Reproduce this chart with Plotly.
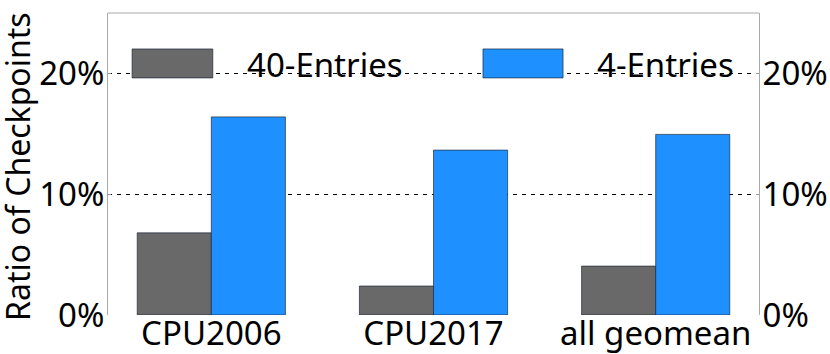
import plotly.graph_objects as go

# benchmark suites on the x axis
categories = ["CPU2006", "CPU2017", "all geomean"]
series_names = ["40-Entries", "4-Entries"]
entries_40 = [0.068, 0.024, 0.0405]
entries_4 = [0.164, 0.1365, 0.1495]
colours = ["#696969", "#1e90ff"]

FONT = "Noto Sans"
FS = 33

fig = go.Figure()
for name, vals, col in zip(series_names, [entries_40, entries_4], colours):
    fig.add_trace(go.Bar(
        x=categories, y=vals, name=name,
        marker=dict(color=col, line=dict(color="rgba(20,30,50,0.8)", width=0.8)),
        showlegend=False,
    ))
# invisible helper so the right-hand axis gets drawn
fig.add_trace(go.Scatter(x=categories, y=entries_4, yaxis="y2", mode="markers",
                         marker=dict(opacity=0), hoverinfo="skip", showlegend=False))

yaxis_common = dict(
    range=[0, 0.25], dtick=0.1, tickformat=".0%",
    ticks="inside", ticklen=3, tickcolor="#999999",
    ticklabelstandoff=-4,
    tickfont=dict(family=FONT, size=FS, color="black"),
    zeroline=False, automargin=False,
)

fig.update_layout(
    width=830, height=354,
    margin=dict(l=108, r=71, t=13, b=39),
    plot_bgcolor="white", paper_bgcolor="white",
    barmode="group", bargap=0.333, bargroupgap=0,
    font=dict(family=FONT, size=FS, color="black"),
    xaxis=dict(
        range=[-0.465, 2.465], showline=False, showgrid=False, ticks="",
        automargin=False, ticklabelstandoff=-4,
        tickfont=dict(family=FONT, size=FS, color="black"),
    ),
    yaxis=dict(
        **yaxis_common,
        showline=True, linecolor="#aaaaaa", linewidth=1,
        showgrid=True, gridcolor="black", gridwidth=1, griddash="4px,5px",
    ),
    yaxis2=dict(
        **yaxis_common,
        overlaying="y", side="right", anchor="x",
        showline=True, linecolor="#aaaaaa", linewidth=1, showgrid=False,
    ),
)

# y title placed by hand so it hugs the left edge
fig.add_annotation(text="Ratio of Checkpoints", xref="paper", yref="paper",
                   x=-0.14, y=0.49, textangle=-90, showarrow=False,
                   xanchor="center", yanchor="middle",
                   font=dict(family=FONT, size=32, color="black"))

# top frame line
fig.add_shape(type="line", xref="paper", yref="paper", x0=0, x1=1, y0=1, y1=1,
              line=dict(color="#aaaaaa", width=1))

# legend drawn with wide patches like the original
patch_x = [(0.037, 0.161), (0.576, 0.699)]
text_x = [0.210, 0.748]
for name, col, (x0, x1), tx in zip(series_names, colours, patch_x, text_x):
    fig.add_shape(type="rect", xref="paper", yref="paper", x0=x0, x1=x1, y0=0.785, y1=0.881,
                  fillcolor=col, line=dict(color="rgba(20,30,50,0.8)", width=0.8))
    fig.add_annotation(text=name, xref="paper", yref="paper", x=tx, y=0.83,
                       xanchor="left", yanchor="middle", showarrow=False,
                       font=dict(family=FONT, size=FS, color="black"))

fig.write_html("out.html", config={"displayModeBar": False},
               post_script="document.body.style.margin='0';")
